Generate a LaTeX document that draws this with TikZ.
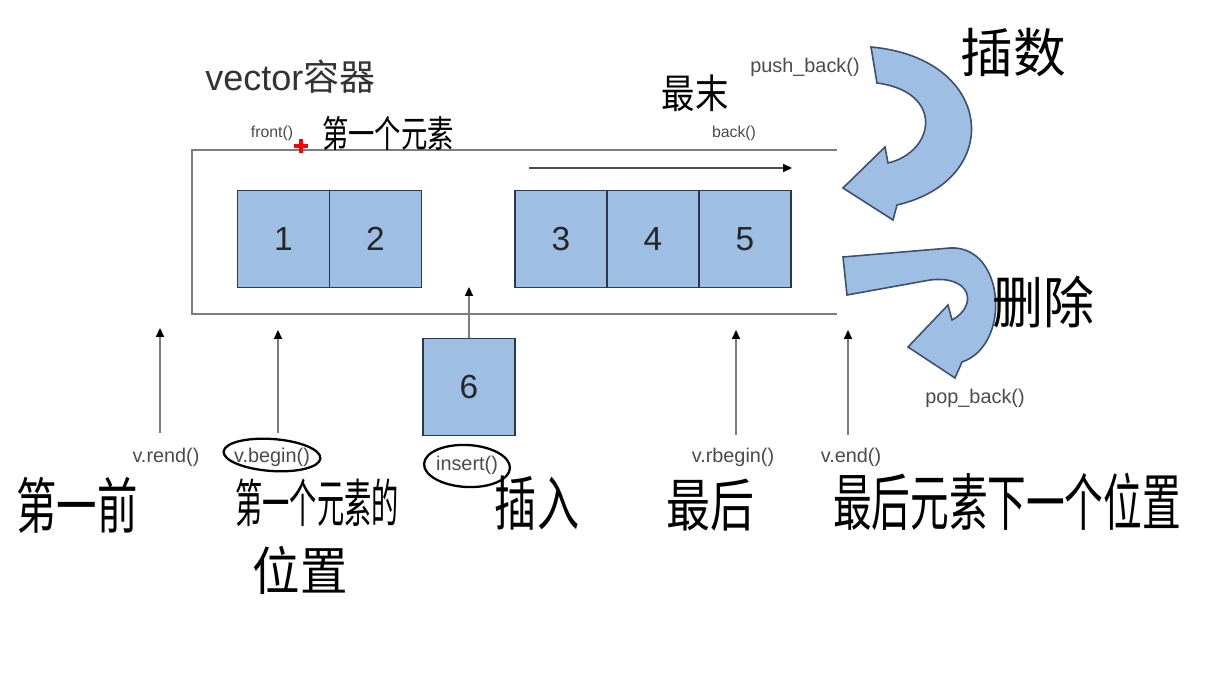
\documentclass[tikz,border=0pt]{standalone}
\usepackage{fontspec}
\usepackage{graphicx}
\setmainfont{Liberation Sans}
\newfontfamily\cjk{Noto Sans CJK SC}
\usetikzlibrary{arrows.meta}
\definecolor{cellfill}{RGB}{158,190,228}
\definecolor{cellborder}{RGB}{45,55,75}
\definecolor{framegray}{RGB}{125,125,125}
\definecolor{textgray}{RGB}{75,75,75}
\definecolor{arrowline}{RGB}{60,80,110}
\newcommand{\hw}[2]{\scalebox{1}[#1]{#2}}
\begin{document}
\begin{tikzpicture}[x=0.02cm,y=-0.02cm,
  cell/.style={draw=cellborder, fill=cellfill, line width=1pt, minimum width=1.84cm, minimum height=1.94cm, inner sep=0pt, font=\fontsize{19pt}{22pt}\selectfont, text=black!85},
  lbl/.style={text=textgray, inner sep=1pt, font=\fontsize{11.3pt}{13pt}\selectfont},
  lblsmall/.style={text=textgray, inner sep=1pt, font=\fontsize{9pt}{11pt}\selectfont},
  frameline/.style={draw=framegray, line width=1.3pt},
  ptr/.style={draw=framegray, line width=0.9pt, -{Triangle[length=5pt,width=4.5pt,fill=black,color=black]}},
  bigarrow/.style={fill=cellfill, draw=arrowline, line width=0.9pt, line join=miter},
  hand/.style={text=black, inner sep=0pt},
  ring/.style={draw=black, line width=1.3pt}
]
\useasboundingbox (0,0) rectangle (1225,692);
\fill[white] (0,0) rectangle (1225,692);

% title
\node[anchor=west, text=black!80, inner sep=0pt] (title) at (205,77) {\fontsize{20.5pt}{24pt}\selectfont vector\cjk 容器};

% container
\coordinate (fTR) at (837,150);
\coordinate (fTL) at (192,150);
\coordinate (fBL) at (192,314);
\coordinate (fBR) at (837,314);
\draw[frameline] (fTR) -- (fTL) -- (fBL) -- (fBR);

% cells
\node[cell] (c1) at (283.5,239) {1};
\node[cell] (c2) at (375.5,239) {2};
\node[cell] (c3) at (561,239) {3};
\node[cell] (c4) at (653,239) {4};
\node[cell] (c5) at (745,239) {5};
\node[cell] (c6) at (469,387) {6};

% inner direction arrow
\coordinate (dirA) at (529,168);
\coordinate (dirB) at (792,168);
\draw[ptr, draw=black!70] (dirA) -- (dirB);

% insert arrow
\coordinate (insT) at (469,287);
\draw[ptr] (c6.north) -- (insT);

% labels
\node[lblsmall] (front) at (272,133) {front()};
\node[lblsmall] (back) at (734,133) {back()};
\node[lbl] (push) at (805,67) {push\_back()};
\node[lbl] (pop) at (975,398) {pop\_back()};
\node[lbl] (rend) at (166,457) {v.rend()};
\node[lbl] (begin) at (272,457) {v.begin()};
\node[lbl] (insert) at (467,465) {insert()};
\node[lbl] (rbegin) at (733,457) {v.rbegin()};
\node[lbl] (vend) at (851,457) {v.end()};

% iterator pointers
\coordinate (rendB) at (160,433);  \coordinate (rendT) at (160,328);
\coordinate (beginB) at (278,433); \coordinate (beginT) at (278,330);
\coordinate (rbB) at (736,435);    \coordinate (rbT) at (736,330);
\coordinate (endB) at (848,435);   \coordinate (endT) at (848,330);
\draw[ptr] (rendB) -- (rendT);
\draw[ptr] (beginB) -- (beginT);
\draw[ptr] (rbB) -- (rbT);
\draw[ptr] (endB) -- (endT);

% push_back curved arrow
\draw[bigarrow] (871,47) .. controls (995,58) and (1005,180) .. (897,205)
  -- (893,220) -- (843,188) -- (885,147) -- (888,163)
  .. controls (935,152) and (945,92) .. (877,83) -- cycle;

% pop_back curved arrow
\draw[bigarrow] (843,257) -- (950,248) .. controls (1005,245) and (1012,345) .. (962,362)
  -- (955,378) -- (908,347) -- (948,305) -- (952,320)
  .. controls (978,306) and (972,275) .. (930,280) -- (847,295) -- cycle;

% red cursor mark
\draw[red, line width=2pt] (294,146) -- (308,146) (301,139) -- (301,153);

% hand-drawn rings
\draw[ring, rotate around={-4:(272,455)}] (272,455) ellipse [x radius=0.97cm, y radius=0.32cm];
\draw[ring, rotate around={-3:(467,466)}] (467,466) ellipse [x radius=0.86cm, y radius=0.42cm];

% handwritten notes
\node[hand] (n1) at (388,133) {\cjk\fontsize{15pt}{15pt}\selectfont\hw{1.4}{第一个元素}};
\node[hand] (n2) at (695,93) {\cjk\fontsize{19pt}{19pt}\selectfont\hw{1.2}{最末}};
\node[hand] (n3) at (1013,53) {\cjk\fontsize{30pt}{30pt}\selectfont\hw{1.0}{插数}};
\node[hand] (n4) at (1043,302) {\cjk\fontsize{29pt}{29pt}\selectfont\hw{1.1}{删除}};
\node[hand] (n5) at (77,505) {\cjk\fontsize{23pt}{23pt}\selectfont\hw{1.5}{第一前}};
\node[hand] (n6) at (317,503) {\cjk\fontsize{15.5pt}{16pt}\selectfont\hw{1.9}{第一个元素的}};
\node[hand] (n7) at (300,570) {\cjk\fontsize{27pt}{27pt}\selectfont\hw{1.1}{位置}};
\node[hand] (n8) at (537,503) {\cjk\fontsize{24pt}{24pt}\selectfont\hw{1.4}{插入}};
\node[hand] (n9) at (710,505) {\cjk\fontsize{25pt}{25pt}\selectfont\hw{1.3}{最后}};
\node[hand] (n10) at (1007,502) {\cjk\fontsize{22pt}{22pt}\selectfont\hw{1.6}{最后元素下一个位置}};
\end{tikzpicture}
\end{document}
